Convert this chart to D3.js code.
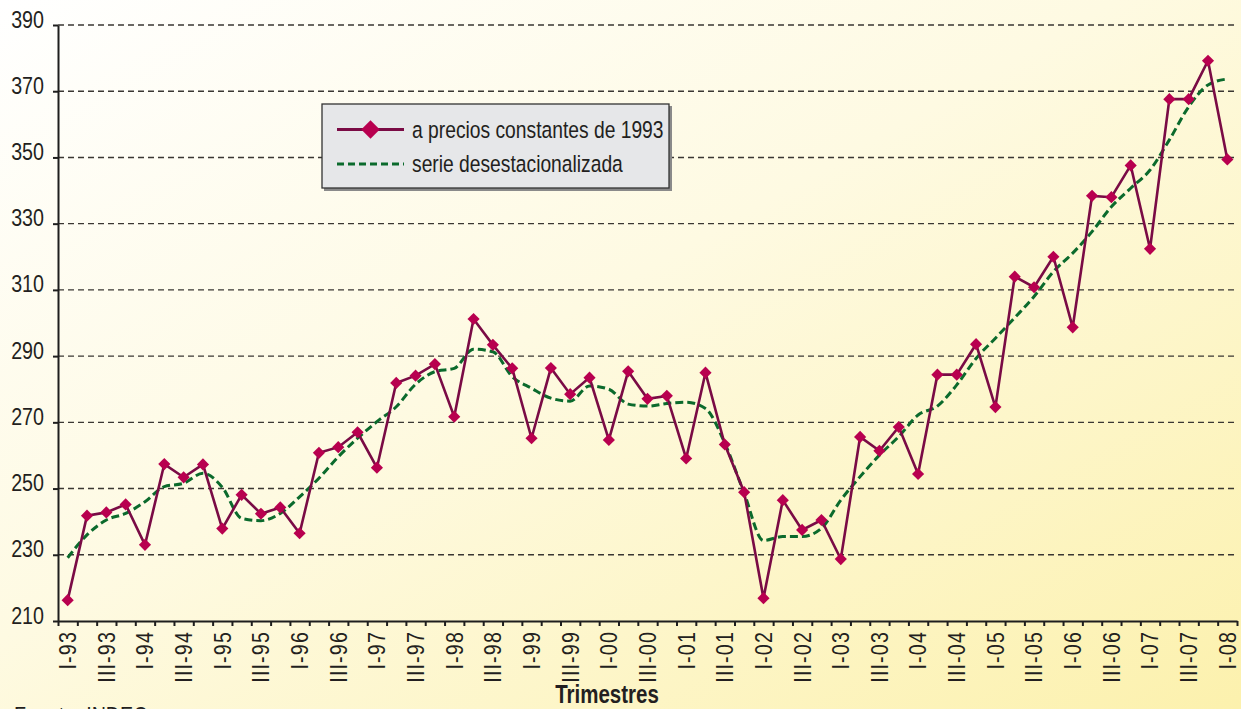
<!DOCTYPE html>
<html>
<head>
<meta charset="utf-8">
<script src="https://cdn.jsdelivr.net/npm/d3@7"></script>
<style>
  html, body { margin: 0; padding: 0; overflow: hidden; }
  svg { display: block; font-family: "Liberation Sans", Arial, sans-serif; }
</style>
</head>
<body>
<div id="chart"></div>
<script>
// trimestres (I..IV), I-93 .. I-08
const quarters = [
  "I-93","II-93","III-93","IV-93","I-94","II-94","III-94","IV-94",
  "I-95","II-95","III-95","IV-95","I-96","II-96","III-96","IV-96",
  "I-97","II-97","III-97","IV-97","I-98","II-98","III-98","IV-98",
  "I-99","II-99","III-99","IV-99","I-00","II-00","III-00","IV-00",
  "I-01","II-01","III-01","IV-01","I-02","II-02","III-02","IV-02",
  "I-03","II-03","III-03","IV-03","I-04","II-04","III-04","IV-04",
  "I-05","II-05","III-05","IV-05","I-06","II-06","III-06","IV-06",
  "I-07","II-07","III-07","IV-07","I-08"
];

// a precios constantes de 1993
const constantPrices = [
  216.3, 241.8, 242.8, 245.2, 233.0, 257.4, 253.4, 257.3,
  237.9, 248.1, 242.4, 244.3, 236.5, 260.8, 262.5, 267.0,
  256.3, 281.9, 284.1, 287.6, 271.7, 301.2, 293.4, 286.3,
  265.2, 286.4, 278.5, 283.5, 264.7, 285.4, 277.1, 278.0,
  259.1, 285.0, 263.3, 248.9, 216.9, 246.5, 237.5, 240.5,
  228.7, 265.6, 261.4, 268.6, 254.4, 284.4, 284.4, 293.6,
  274.6, 314.0, 310.8, 320.0, 298.7, 338.4, 338.0, 347.6,
  322.4, 367.6, 367.6, 379.2, 349.4
];

// serie desestacionalizada
const seasonallyAdjusted = [
  229.1, 236.0, 240.5, 242.5, 246.0, 250.6, 251.6, 254.6,
  250.4, 241.0, 240.3, 242.5, 247.5, 253.1, 259.6, 265.2,
  270.2, 274.7, 281.5, 285.3, 286.3, 292.1, 291.3, 283.8,
  280.3, 277.3, 276.4, 281.0, 280.0, 275.5, 274.9, 275.7,
  276.1, 274.2, 263.7, 248.6, 234.3, 235.5, 235.5, 238.0,
  246.5, 253.6, 260.1, 265.7, 272.2, 274.9, 281.3, 289.3,
  295.4, 301.6, 308.0, 315.5, 321.1, 327.6, 335.1, 340.7,
  346.2, 355.3, 365.3, 371.9, 373.7
];

const yTicks = [210, 230, 250, 270, 290, 310, 330, 350, 370, 390];
const legendLabels = ["a precios constantes de 1993", "serie desestacionalizada"];
const xTitle = "Trimestres";
const source = "Fuente: INDEC";

const W = 1241, H = 709;
const plotLeft = 58, plotRight = 1237, plotTop = 25, plotBottom = 621;
const narrow = 0.82; // tipografia condensada

const colorLine = "#7a0b45";
const colorMarker = "#b8004f";
const colorGreen = "#0b6a2c";
const colorText = "#231f20";

const svg = d3.select("#chart").append("svg")
  .attr("width", W)
  .attr("height", H);

// fondo degradado
const grad = svg.append("defs").append("linearGradient")
  .attr("id", "bg")
  .attr("x1", "0").attr("y1", "0")
  .attr("x2", "1").attr("y2", "1");
grad.append("stop").attr("offset", "0%").attr("stop-color", "#ffffff");
grad.append("stop").attr("offset", "45%").attr("stop-color", "#fefae2");
grad.append("stop").attr("offset", "100%").attr("stop-color", "#fcf1ad");

svg.append("rect")
  .attr("width", W).attr("height", H)
  .attr("fill", "url(#bg)");

// escalas
const x = d3.scaleBand()
  .domain(quarters)
  .range([plotLeft, plotRight])
  .padding(0);

const xIdx = d3.scaleLinear()
  .domain([0, quarters.length])
  .range([plotLeft, plotRight]);

const y = d3.scaleLinear()
  .domain([210, 390])
  .range([plotBottom, plotTop]);

const cx = q => x(q) + x.bandwidth() / 2;

// lineas de grilla
svg.append("g")
  .selectAll("line")
  .data(yTicks.filter(d => d !== 210))
  .enter()
  .append("line")
  .attr("x1", plotLeft)
  .attr("x2", plotRight)
  .attr("y1", d => y(d))
  .attr("y2", d => y(d))
  .attr("stroke", "#3a3733")
  .attr("stroke-width", 1.4)
  .attr("stroke-dasharray", "6,4");

// eje y
const yAxis = svg.append("g")
  .attr("transform", `translate(${plotLeft},0)`)
  .call(d3.axisLeft(y).tickValues(yTicks).tickSize(5).tickSizeOuter(0).tickFormat(""));
yAxis.selectAll("line, path").attr("stroke", "#1e1e1e").attr("stroke-width", 2);

svg.append("g")
  .selectAll("text")
  .data(yTicks)
  .enter()
  .append("text")
  .attr("transform", d => `translate(44,${y(d) + 2.5}) scale(${narrow},1)`)
  .attr("text-anchor", "end")
  .attr("font-size", 24)
  .attr("fill", colorText)
  .text(d => d);

// eje x
const xAxis = svg.append("g")
  .attr("transform", `translate(0,${plotBottom})`)
  .call(d3.axisBottom(xIdx).tickValues(d3.range(quarters.length + 1)).tickSize(5).tickSizeOuter(0).tickFormat(""));
xAxis.selectAll("line, path").attr("stroke", "#1e1e1e").attr("stroke-width", 2);

svg.append("g")
  .selectAll("text")
  .data(quarters.filter((q, i) => i % 2 === 0))
  .enter()
  .append("text")
  .attr("transform", d => `translate(${cx(d)},631) rotate(-90) scale(${narrow},1)`)
  .attr("dy", "0.35em")
  .attr("text-anchor", "end")
  .attr("font-size", 24)
  .attr("letter-spacing", 1.4)
  .attr("fill", colorText)
  .text(d => d);

svg.append("text")
  .attr("transform", `translate(607,703) scale(${narrow},1)`)
  .attr("text-anchor", "middle")
  .attr("font-size", 25)
  .attr("font-weight", "bold")
  .attr("fill", colorText)
  .text(xTitle);

svg.append("text")
  .attr("transform", `translate(14,724) scale(${narrow},1)`)
  .attr("font-size", 24)
  .attr("fill", colorText)
  .text(source);

// serie desestacionalizada
const lineB = d3.line()
  .x((d, i) => cx(quarters[i]))
  .y(d => y(d))
  .curve(d3.curveMonotoneX);

svg.append("path")
  .datum(seasonallyAdjusted)
  .attr("d", lineB)
  .attr("fill", "none")
  .attr("stroke", colorGreen)
  .attr("stroke-width", 3)
  .attr("stroke-dasharray", "8,4");

// a precios constantes
const lineA = d3.line()
  .x((d, i) => cx(quarters[i]))
  .y(d => y(d));

svg.append("path")
  .datum(constantPrices)
  .attr("d", lineA)
  .attr("fill", "none")
  .attr("stroke", colorLine)
  .attr("stroke-width", 2.6);

const diamond = d3.symbol().type(d3.symbolSquare).size(74);

svg.append("g")
  .selectAll("path")
  .data(constantPrices)
  .enter()
  .append("path")
  .attr("d", diamond)
  .attr("transform", (d, i) => `translate(${cx(quarters[i])},${y(d)}) rotate(45)`)
  .attr("fill", colorMarker);

// leyenda
const lg = svg.append("g");
lg.append("rect")
  .attr("x", 324).attr("y", 106)
  .attr("width", 348).attr("height", 85)
  .attr("fill", "#8a8a8a");
lg.append("rect")
  .attr("x", 322).attr("y", 104)
  .attr("width", 347).attr("height", 84)
  .attr("fill", "#e6e7e9")
  .attr("stroke", "#333333")
  .attr("stroke-width", 1.3);

lg.append("line")
  .attr("x1", 337).attr("x2", 404)
  .attr("y1", 129.5).attr("y2", 129.5)
  .attr("stroke", colorLine)
  .attr("stroke-width", 3);
lg.append("path")
  .attr("d", d3.symbol().type(d3.symbolSquare).size(170))
  .attr("transform", "translate(370.5,129.5) rotate(45)")
  .attr("fill", colorMarker);

lg.append("line")
  .attr("x1", 337).attr("x2", 404)
  .attr("y1", 164).attr("y2", 164)
  .attr("stroke", colorGreen)
  .attr("stroke-width", 3)
  .attr("stroke-dasharray", "7,4");

lg.selectAll("text")
  .data(legendLabels)
  .enter()
  .append("text")
  .attr("transform", (d, i) => `translate(412,${137.5 + i * 34.5}) scale(${narrow},1)`)
  .attr("font-size", 23.5)
  .attr("fill", colorText)
  .text(d => d);
</script>
</body>
</html>
